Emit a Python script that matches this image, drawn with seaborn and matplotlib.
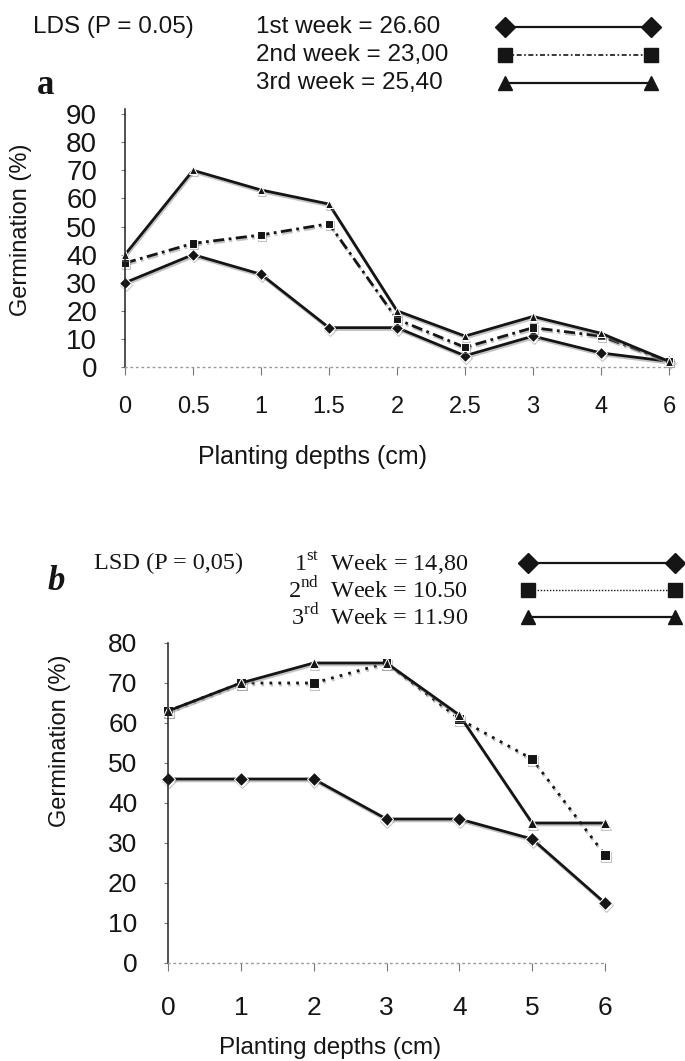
import numpy as np
import pandas as pd
import matplotlib
matplotlib.use("Agg")
import matplotlib.pyplot as plt
import matplotlib.font_manager as fm
import matplotlib.patheffects as pe
from matplotlib.lines import Line2D
import seaborn as sns

# panel a: first sowing, depths are equally spaced categories
depths_a = ['0', '0.5', '1', '1.5', '2', '2.5', '3', '4', '6']
week1_a = [30, 40, 33, 14, 14, 4, 11, 5, 2]
week2_a = [37, 44, 47, 51, 17, 7, 14, 11, 2]
week3_a = [40, 70, 63, 58, 20, 11, 18, 12, 2]
lsd_a = ['26.60', '23,00', '25,40']

# panel b
depths_b = [0, 1, 2, 3, 4, 5, 6]
week1_b = [46, 46, 46, 36, 36, 31, 15]
week2_b = [63, 70, 70, 75, 61, 51, 27]
week3_b = [63, 70, 75, 75, 62, 35, 35]
lsd_b = ['14,80', '10.50', '11.90']

weeks = ['1st week', '2nd week', '3rd week']
markers = {'1st week': 'D', '2nd week': 's', '3rd week': '^'}
ink = '#151515'
palette = {w: ink for w in weeks}

W, H = 685, 1061
def fx(x):
    return x / W
def fy(y):
    return 1 - y / H

sns.set_theme(style='white')
names = {f.name for f in fm.fontManager.ttflist}
narrow = 'Liberation Sans Narrow' if 'Liberation Sans Narrow' in names else 'Liberation Sans'
plt.rcParams['font.family'] = ['Liberation Sans', 'DejaVu Sans']
plt.rcParams['mathtext.fontset'] = 'custom'
plt.rcParams['mathtext.rm'] = 'Liberation Serif'

fig = plt.figure(figsize=(W / 100, H / 100), dpi=100)
fig.patch.set_facecolor('white')

# scanned look: faint grey shadow under every curve
shadow = [pe.SimpleLineShadow(offset=(0.6, -1.4), shadow_color='#888888', alpha=0.5), pe.Normal()]

# ---------- panel a ----------
ax_a = fig.add_axes([fx(125), fy(367), (669 - 125) / W, (367 - 108.5) / H])
df_a = pd.DataFrame({
    'pos': np.tile(np.arange(len(depths_a)), 3),
    'germ': week1_a + week2_a + week3_a,
    'week': np.repeat(weeks, len(depths_a)),
})
sns.lineplot(data=df_a, x='pos', y='germ', hue='week', style='week',
             palette=palette, markers=markers,
             dashes={'1st week': '', '2nd week': (4, 1.6, 1, 1.6), '3rd week': ''},
             markersize=6, linewidth=2, legend=False, clip_on=False, ax=ax_a)
ax_a.set_xlim(0, 8)
ax_a.set_ylim(0, 92)
ax_a.set_xticks(range(len(depths_a)))
ax_a.set_xticklabels(depths_a, fontsize=17, family=narrow)
ax_a.set_yticks(range(0, 91, 10))
ax_a.set_yticklabels([str(v) for v in range(0, 91, 10)], fontsize=20, family=narrow)
ax_a.tick_params(axis='y', length=3, width=0.8, color='#777777', pad=17, labelcolor=ink)
ax_a.tick_params(axis='x', length=6, width=0.8, color='#777777', pad=15, labelcolor=ink)
ax_a.set_xlabel('Planting depths (cm)', fontsize=18, color=ink, va='center')
ax_a.xaxis.set_label_coords(0.344, -0.348)
ax_a.set_ylabel('Germination (%)', fontsize=17, color=ink, va='center')
ax_a.yaxis.set_label_coords(-0.191, 0.53)

# ---------- panel b ----------
ax_b = fig.add_axes([fx(168), fy(963), (605 - 168) / W, (963 - 643) / H])
df_b = pd.DataFrame({
    'depth': depths_b * 3,
    'germ': week1_b + week2_b + week3_b,
    'week': np.repeat(weeks, len(depths_b)),
})
sns.lineplot(data=df_b, x='depth', y='germ', hue='week', style='week',
             palette=palette, markers=markers,
             dashes={'1st week': '', '2nd week': (1, 2.2), '3rd week': ''},
             markersize=7, linewidth=2, legend=False, clip_on=False, ax=ax_b)
ax_b.set_xlim(0, 6)
ax_b.set_ylim(0, 80)
ax_b.set_xticks(depths_b)
ax_b.set_yticks(range(0, 81, 10))
ax_b.tick_params(axis='both', labelsize=19, labelcolor=ink)
ax_b.tick_params(axis='y', length=3, width=0.8, color='#777777', pad=19)
ax_b.tick_params(axis='x', length=6, width=0.8, color='#777777', pad=18)
ax_b.set_xlabel('Planting depths (cm)', fontsize=17.5, color=ink, va='center')
ax_b.xaxis.set_label_coords(0.371, -0.266)
ax_b.set_ylabel('Germination (%)', fontsize=17, color=ink, va='center')
ax_b.yaxis.set_label_coords(-0.247, 0.694)

for ax in (ax_a, ax_b):
    ax.tick_params(bottom=True, left=True)
    ax.spines['top'].set_visible(False)
    ax.spines['right'].set_visible(False)
    ax.spines['left'].set_color('#222222')
    ax.spines['left'].set_linewidth(1.1)
    ax.spines['bottom'].set_color('#999999')
    ax.spines['bottom'].set_linestyle((0, (1, 3)))
    ax.spines['bottom'].set_linewidth(1)
    ax.grid(False)
    ax.set_facecolor('white')
    for line in ax.lines:
        line.set_path_effects(shadow)

# ---------- LSD texts and legend keys ----------
fig.text(fx(33), fy(27), 'LDS (P = 0.05)', fontsize=17.5, color=ink, va='center')
fig.text(fx(37), fy(86), 'a', fontsize=25, weight='bold', family='Liberation Serif',
         color=ink, va='center')
key_dash_a = ['-', (0, (3, 1.5, 1, 1.5)), '-']
key_dash_b = ['-', (0, (1, 1.2)), '-']
for i, w in enumerate(weeks):
    y = [27, 55, 83][i]
    fig.text(fx(256), fy(y), f'{w} = {lsd_a[i]}', fontsize=17.5, color=ink, va='center')
    lw = 1.2 if i == 1 else 1.6
    fig.add_artist(Line2D([fx(505), fx(651)], [fy(y), fy(y)], color=ink, lw=lw,
                          linestyle=key_dash_a[i], marker=markers[w], markersize=10,
                          markevery=[0, 1], transform=fig.transFigure))

fig.text(fx(94), fy(563), 'LSD (P = 0,05)', fontsize=17.5, family='Liberation Serif',
         color=ink, va='center')
fig.text(fx(48), fy(582), 'b', fontsize=25, weight='bold', style='italic',
         family='Liberation Serif', color=ink, va='center')
sups = ['st', 'nd', 'rd']
for i, w in enumerate(weeks):
    y = [563, 590, 617][i]
    label = '%s$^{\\mathrm{%s}}$  Week = %s' % (i + 1, sups[i], lsd_b[i])
    fig.text(fx(468), fy(y), label, fontsize=17.5, family='Liberation Serif',
             color=ink, va='center', ha='right')
    lw = 1.0 if i == 1 else 1.6
    fig.add_artist(Line2D([fx(528), fx(675)], [fy(y), fy(y)], color=ink, lw=lw,
                          linestyle=key_dash_b[i], marker=markers[w], markersize=10,
                          markevery=[0, 1], transform=fig.transFigure))

fig.savefig('out.png', dpi=100, facecolor='white')
